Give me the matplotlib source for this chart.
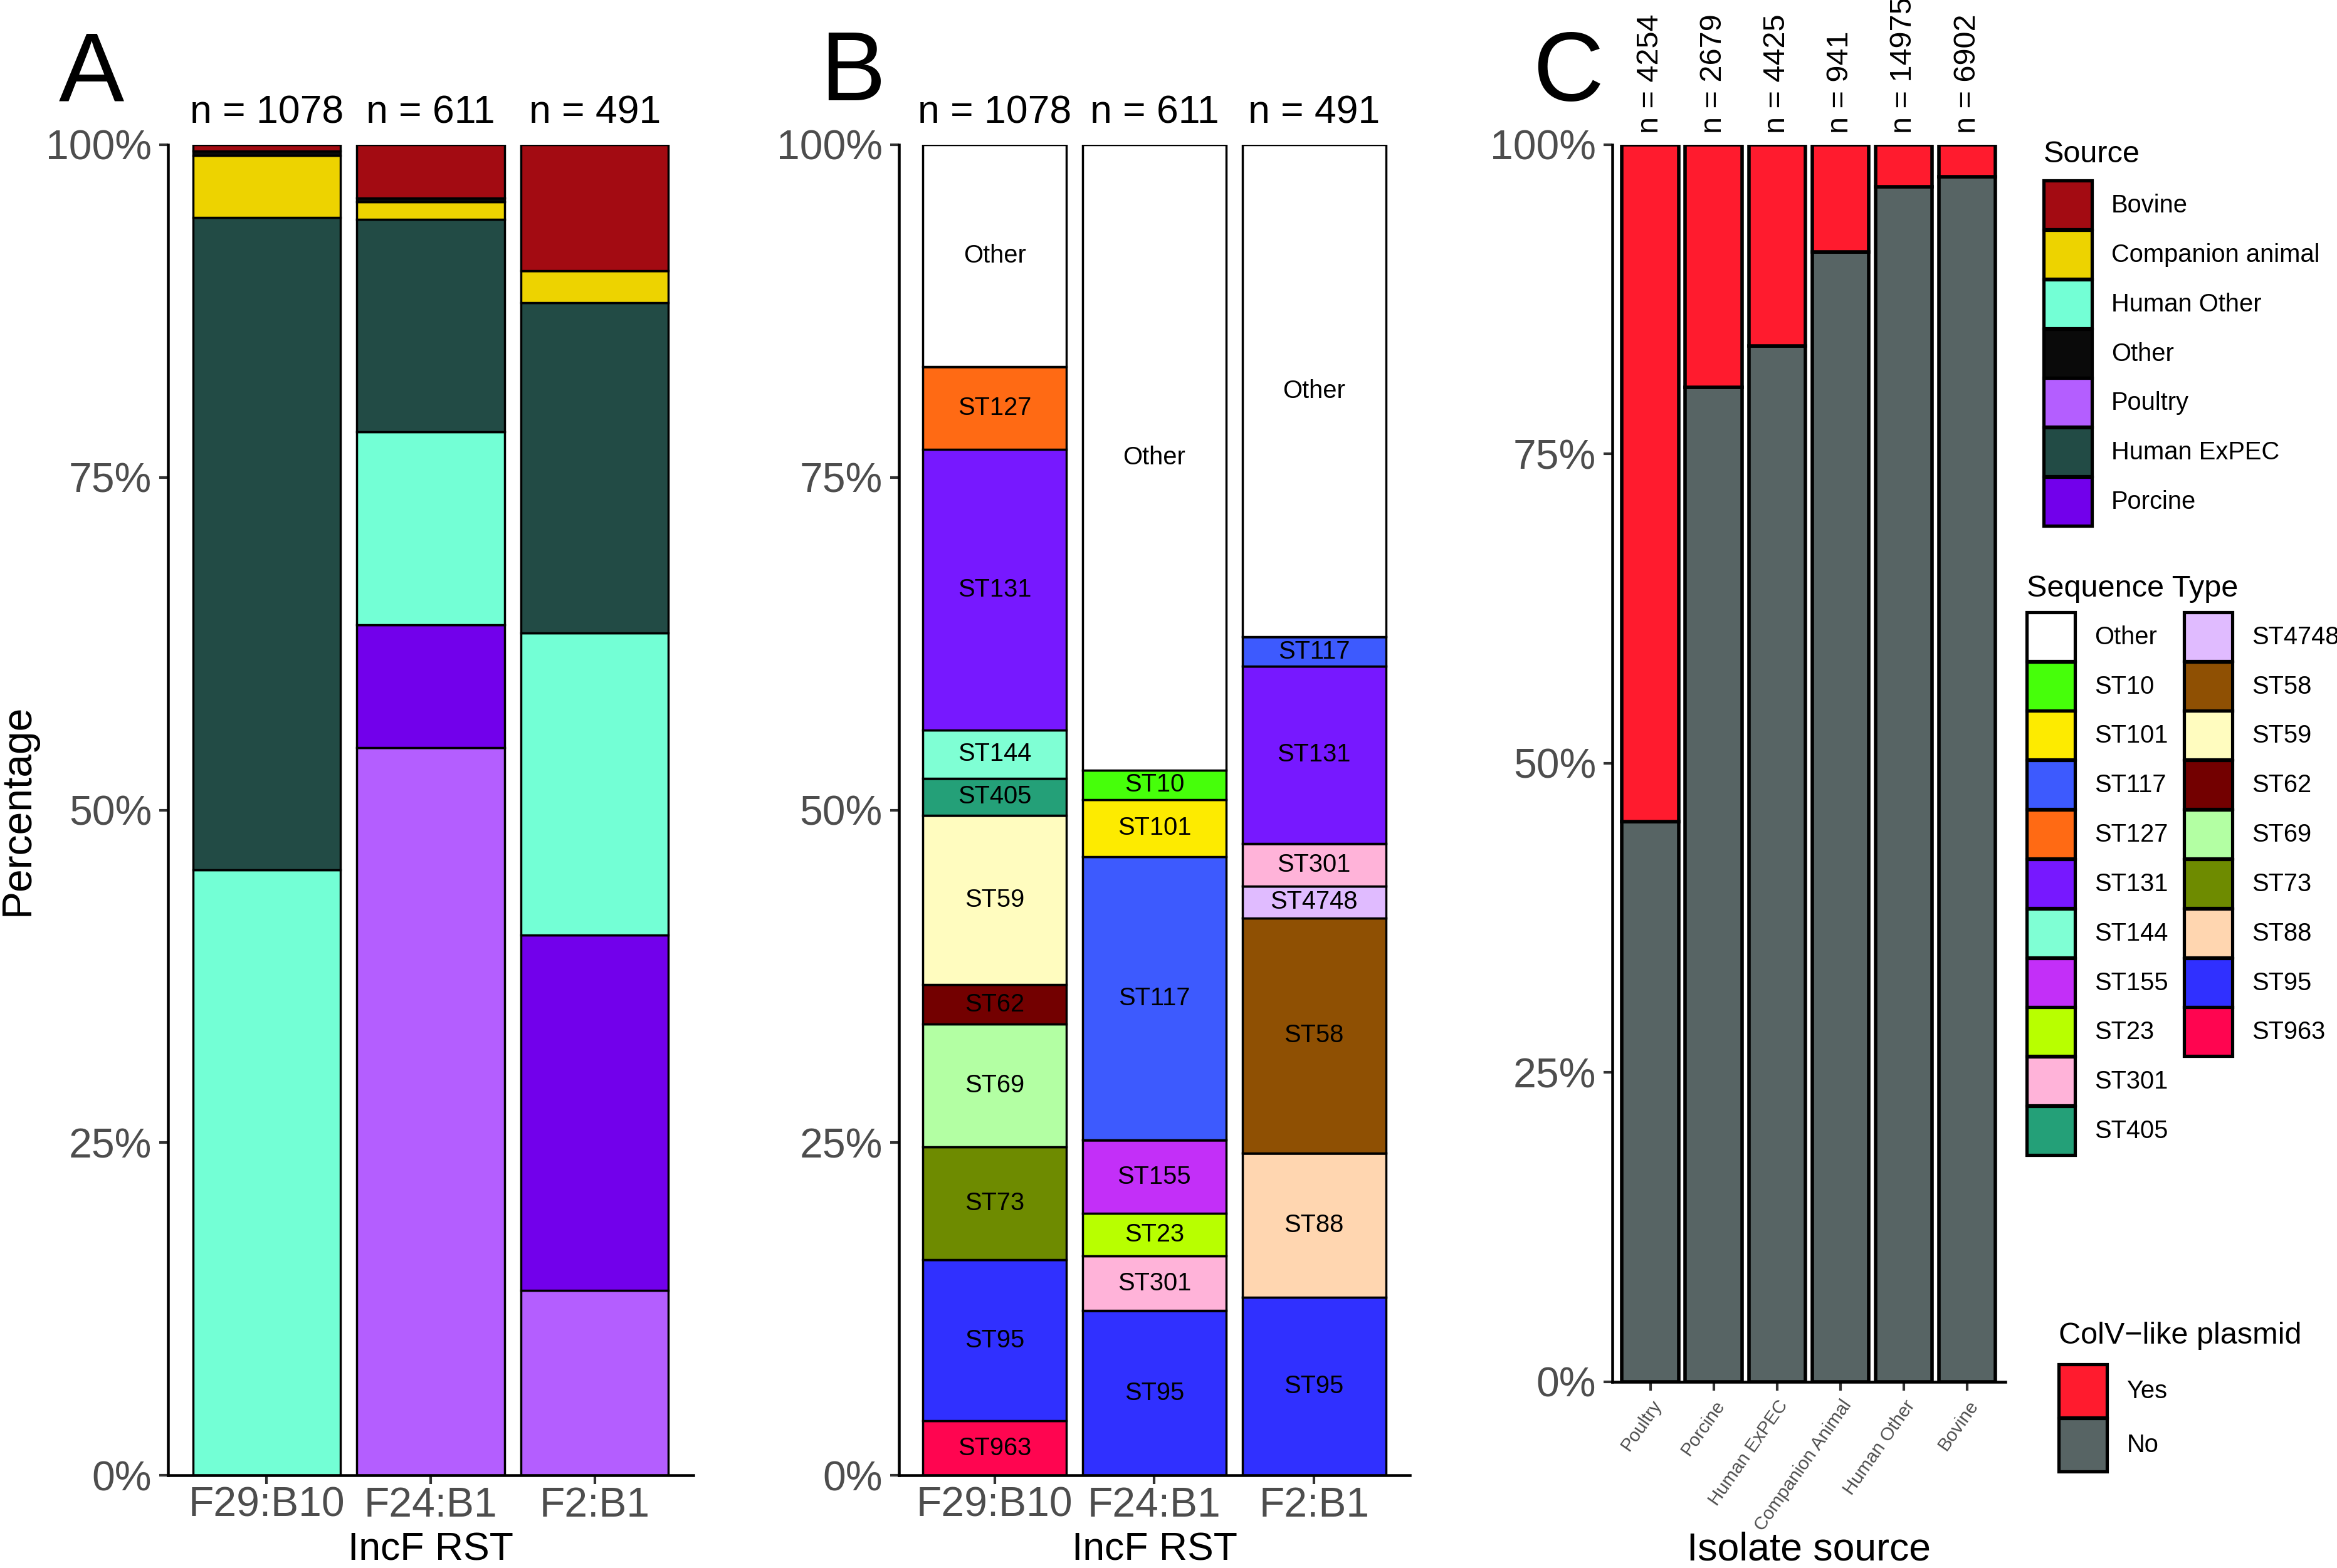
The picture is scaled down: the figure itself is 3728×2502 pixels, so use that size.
import numpy as np
import matplotlib.pyplot as plt
from matplotlib.patches import Patch
from matplotlib.ticker import FuncFormatter

plt.rcParams['font.family'] = ['Liberation Sans', 'DejaVu Sans']

# ---------------- data ----------------
rst = ['F29:B10', 'F24:B1', 'F2:B1']
rst_n = [1078, 611, 491]

# panel A: % of isolates by source (per RST)
bovine = [0.5, 4.0, 9.5]
src_other = [0.3, 0.3, 0.0]
companion = [4.7, 1.3, 2.4]
human_expec = [49.0, 16.0, 24.8]
human_other = [45.5, 14.5, 22.7]
porcine = [0.0, 9.2, 26.7]
poultry = [0.0, 54.7, 13.9]

src_names = ['Bovine', 'Companion animal', 'Human Other', 'Other', 'Poultry', 'Human ExPEC', 'Porcine']
src_cols = ['#A30B12', '#EDD300', '#73FFD5', '#0A0A0A', '#B45EFF', '#224B45', '#7200EB']

# panel B: % of isolates by sequence type
st_types = ['Other', 'ST10', 'ST101', 'ST117', 'ST127', 'ST131', 'ST144', 'ST155', 'ST23', 'ST301',
            'ST405', 'ST4748', 'ST58', 'ST59', 'ST62', 'ST69', 'ST73', 'ST88', 'ST95', 'ST963']
st_f29 = [16.7, 0, 0, 0, 6.2, 21.1, 3.6, 0, 0, 0, 2.8, 0, 0, 12.7, 3.0, 9.2, 8.5, 0, 12.1, 4.1]
st_f24 = [47.0, 2.2, 4.3, 21.3, 0, 0, 0, 5.5, 3.2, 4.1, 0, 0, 0, 0, 0, 0, 0, 0, 12.4, 0]
st_f2 = [37.0, 0, 0, 2.2, 0, 13.3, 0, 0, 0, 3.2, 0, 2.4, 17.7, 0, 0, 0, 0, 10.8, 13.4, 0]
st_cols = ['#FFFFFF', '#46FF0A', '#FDEB00', '#3D5AFE', '#FF6A14', '#7718FF', '#7FFFD4', '#C32FF8',
           '#B8FF00', '#FFB3D9', '#24A078', '#E0BBFF', '#8F5003', '#FFFCBF', '#730000', '#B3FFA3',
           '#6E8B00', '#FFD6B0', '#3030FF', '#FF0550']

# panel C: ColV-like plasmid carriage by isolate source
iso_src = ['Poultry', 'Porcine', 'Human ExPEC', 'Companion Animal', 'Human Other', 'Bovine']
iso_n = [4254, 2679, 4425, 941, 14975, 6902]
colv_no = [45.3, 80.4, 83.7, 91.3, 96.6, 97.4]
colv_yes = [100 - v for v in colv_no]

# ---------------- figure ----------------
fig = plt.figure(figsize=(14.912, 10.008), dpi=250)

tick_col = '#4D4D4D'
pct = FuncFormatter(lambda v, p: f'{v:.0f}%')


def style(ax, ncat):
    for s in ['top', 'right']:
        ax.spines[s].set_visible(False)
    for s in ['left', 'bottom']:
        ax.spines[s].set_linewidth(1.3)
    ax.set_ylim(0, 100)
    ax.set_xlim(-0.6, ncat - 0.4)
    ax.set_yticks([0, 25, 50, 75, 100])
    ax.yaxis.set_major_formatter(pct)
    ax.tick_params(length=4, width=1.2, color='#333333', labelcolor=tick_col, labelsize=19)
    ax.tick_params(axis='x', pad=1)
    ax.margins(0)


x3 = np.arange(len(rst))

# Panel A
axA = fig.add_axes([0.072, 0.059, 0.2246, 0.8488])
srcA = {'Bovine': bovine, 'Other': src_other, 'Companion animal': companion,
        'Human ExPEC': human_expec, 'Human Other': human_other, 'Porcine': porcine, 'Poultry': poultry}
stackA = ['Poultry', 'Porcine', 'Human Other', 'Human ExPEC', 'Companion animal', 'Other', 'Bovine']
bottom = np.zeros(3)
for name in stackA:
    vals = np.array(srcA[name])
    axA.bar(x3, vals, 0.9, bottom=bottom, color=src_cols[src_names.index(name)],
            edgecolor='black', linewidth=1.0)
    bottom += vals
style(axA, 3)
axA.set_xticks(x3)
axA.set_xticklabels(rst)
axA.set_xlabel('IncF RST', fontsize=18, va='baseline')
axA.xaxis.set_label_coords(0.5, -0.0638)
axA.set_ylabel('Percentage', fontsize=19, labelpad=4)
for i, n in enumerate(rst_n):
    axA.annotate(f'n = {n}', xy=(i, 100), xytext=(0, 6), textcoords='offset points',
                 ha='center', va='bottom', fontsize=18)

# Panel B
axB = fig.add_axes([0.3846, 0.059, 0.2187, 0.8488])
st_bars = [st_f29, st_f24, st_f2]
bottom = np.zeros(3)
for k in range(len(st_types) - 1, -1, -1):
    vals = np.array([b[k] for b in st_bars])
    axB.bar(x3, vals, 0.9, bottom=bottom, color=st_cols[k], edgecolor='black', linewidth=1.0)
    for i in range(3):
        if vals[i] > 0:
            axB.text(x3[i], bottom[i] + vals[i] / 2, st_types[k], ha='center', va='center', fontsize=11.5)
    bottom += vals
style(axB, 3)
axB.set_xticks(x3)
axB.set_xticklabels(rst)
axB.set_xlabel('IncF RST', fontsize=18, va='baseline')
axB.xaxis.set_label_coords(0.5, -0.0638)
for i, n in enumerate(rst_n):
    axB.annotate(f'n = {n}', xy=(i, 100), xytext=(0, 6), textcoords='offset points',
                 ha='center', va='bottom', fontsize=18)

# Panel C
axC = fig.add_axes([0.690, 0.1188, 0.168, 0.789])
x6 = np.arange(len(iso_src))
axC.bar(x6, colv_no, 0.9, color='#576464', edgecolor='black', linewidth=1.6)
axC.bar(x6, colv_yes, 0.9, bottom=colv_no, color='#FF1B2E', edgecolor='black', linewidth=1.6)
style(axC, 6)
axC.set_xticks(x6)
axC.set_xticklabels(iso_src, rotation=55, ha='right', rotation_mode='anchor', fontsize=8.5)
axC.tick_params(axis='x', pad=3)
axC.set_xlabel('Isolate source', fontsize=18, va='baseline')
axC.xaxis.set_label_coords(0.5, -0.1444)
for i, n in enumerate(iso_n):
    axC.annotate(f'n = {n}', xy=(i, 100), xytext=(0, 5), textcoords='offset points',
                 ha='center', va='bottom', rotation=90, fontsize=14)

# panel letters
for x, lab in [(0.025, 'A'), (0.351, 'B'), (0.656, 'C')]:
    fig.text(x, 0.936, lab, fontsize=45, va='baseline', ha='left')

# legends
leg_kw = dict(loc='upper left', frameon=False, fontsize=11.5, title_fontsize=14,
              handlelength=1.93, handleheight=2.63, labelspacing=0.02, handletextpad=0.78,
              borderpad=0, borderaxespad=0, alignment='left')

h_src = [Patch(facecolor=c, edgecolor='black', linewidth=1.5) for c in src_cols]
leg1 = fig.legend(h_src, src_names, bbox_to_anchor=(0.8744, 0.9105), title='Source', **leg_kw)
leg1._legend_box.sep = 5.5

h_st = [Patch(facecolor=c, edgecolor='black', linewidth=1.5) for c in st_cols]
h_st.append(Patch(facecolor='none', edgecolor='none'))
leg2 = fig.legend(h_st, st_types + [''], bbox_to_anchor=(0.8673, 0.6336), title='Sequence Type', ncol=2,
                  columnspacing=0.62, **leg_kw)
leg2._legend_box.sep = 4.3

h_colv = [Patch(facecolor='#FF1B2E', edgecolor='black', linewidth=1.5),
          Patch(facecolor='#576464', edgecolor='black', linewidth=1.5)]
kw2 = dict(leg_kw)
kw2['handleheight'] = 2.9
leg3 = fig.legend(h_colv, ['Yes', 'No'], bbox_to_anchor=(0.881, 0.157), title='ColV\u2212like plasmid', **kw2)
leg3._legend_box.sep = 6.6

fig.savefig('out.png', dpi=250)
